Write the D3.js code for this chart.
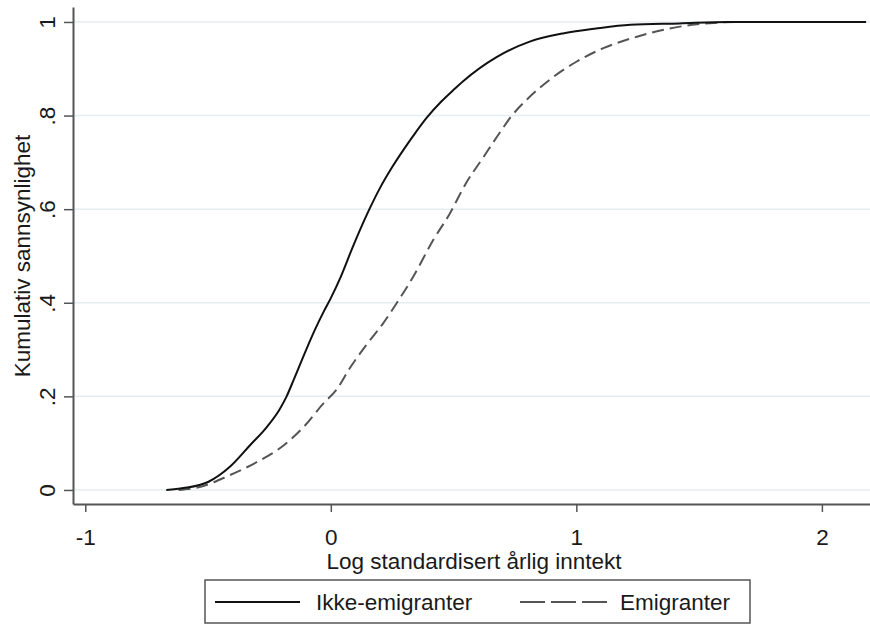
<!DOCTYPE html>
<html>
<head>
<meta charset="utf-8">
<script src="https://cdn.jsdelivr.net/npm/d3@7"></script>
<style>
  body { margin: 0; background: #fff; }
  svg { display: block; font-family: "Liberation Sans", Arial, sans-serif; }
</style>
</head>
<body>
<svg width="870" height="625"></svg>
<script>
// values
var xTicks = [-1, 0, 1, 2];
var yTicks = [0, 0.2, 0.4, 0.6, 0.8, 1];
var yTickLabels = ["0", ".2", ".4", ".6", ".8", "1"];

var ikkeX = [-0.67, -0.6, -0.5, -0.41, -0.33, -0.26, -0.21, -0.18, -0.15, -0.10, -0.065, -0.03, 0.0, 0.04, 0.09, 0.15, 0.2, 0.25, 0.3, 0.34, 0.39, 0.45, 0.5, 0.54, 0.675, 0.81, 0.95, 1.08, 1.22, 1.42, 1.62, 2.18];
var ikkeY = [0, 0.004, 0.017, 0.05, 0.095, 0.135, 0.171, 0.2, 0.237, 0.3, 0.342, 0.38, 0.41, 0.455, 0.52, 0.592, 0.645, 0.69, 0.73, 0.76, 0.795, 0.83, 0.855, 0.874, 0.925, 0.958, 0.976, 0.986, 0.994, 0.997, 1.0, 1.0];

var emigX = [-0.62, -0.53, -0.41, -0.30, -0.19, -0.11, -0.03, 0.023, 0.077, 0.145, 0.213, 0.268, 0.336, 0.417, 0.485, 0.55, 0.62, 0.69, 0.73, 0.80, 0.90, 1.0, 1.11, 1.25, 1.38, 1.49, 1.56, 1.65, 2.18];
var emigY = [0, 0.007, 0.032, 0.06, 0.096, 0.135, 0.185, 0.214, 0.26, 0.31, 0.356, 0.399, 0.456, 0.534, 0.591, 0.655, 0.71, 0.765, 0.795, 0.835, 0.88, 0.915, 0.944, 0.969, 0.986, 0.995, 0.998, 1.0, 1.0];

var svg = d3.select("svg");

var x = d3.scaleLinear().domain([-1.05, 2.2]).range([73, 871]);
var y = d3.scaleLinear().domain([-0.03, 1.032]).range([504, 7]);

var axisCol = "#555";
var textCol = "#1a1a1a";
var fontSize = "22.5px";

// grid
svg.selectAll("line.grid")
  .data(yTicks)
  .enter()
  .append("line")
  .attr("class", "grid")
  .attr("x1", 74).attr("x2", 870)
  .attr("y1", function(d) { return y(d); })
  .attr("y2", function(d) { return y(d); })
  .attr("stroke", "#e4eef1")
  .attr("stroke-width", 1.5);

// y axis
var yAxis = d3.axisLeft(y).tickValues(yTicks).tickSize(9).tickSizeOuter(0)
  .tickFormat(function(d, i) { return yTickLabels[i]; });
var gy = svg.append("g").attr("transform", "translate(73,0)").call(yAxis);
gy.select(".domain").attr("stroke", axisCol).attr("stroke-width", 2);
gy.selectAll(".tick line").attr("stroke", axisCol).attr("stroke-width", 1.5);
gy.selectAll(".tick text")
  .attr("fill", textCol)
  .attr("font-size", fontSize)
  .attr("text-anchor", "middle")
  .attr("x", 0).attr("dy", 0)
  .attr("transform", "translate(-18,0) rotate(-90)");

// x axis
var xAxis = d3.axisBottom(x).tickValues(xTicks).tickSize(8).tickSizeOuter(0)
  .tickFormat(function(d) { return String(d); });
var gx = svg.append("g").attr("transform", "translate(0,504)").call(xAxis);
gx.select(".domain").attr("stroke", axisCol).attr("stroke-width", 2);
gx.selectAll(".tick line").attr("stroke", axisCol).attr("stroke-width", 1.5);
gx.selectAll(".tick text")
  .attr("fill", textCol)
  .attr("font-size", fontSize)
  .attr("y", 0).attr("dy", 0)
  .attr("transform", "translate(0,41)");

// titles
svg.append("text")
  .attr("x", 474).attr("y", 569)
  .attr("text-anchor", "middle")
  .attr("font-size", fontSize)
  .attr("fill", textCol)
  .text("Log standardisert årlig inntekt");

svg.append("text")
  .attr("transform", "translate(30,256) rotate(-90)")
  .attr("text-anchor", "middle")
  .attr("font-size", fontSize)
  .attr("fill", textCol)
  .text("Kumulativ sannsynlighet");

// curves
var line = d3.line()
  .x(function(d) { return x(d[0]); })
  .y(function(d) { return y(d[1]); })
  .curve(d3.curveMonotoneX);

var emig = d3.zip(emigX, emigY);
var ikke = d3.zip(ikkeX, ikkeY);

svg.append("path")
  .datum(emig)
  .attr("d", line)
  .attr("fill", "none")
  .attr("stroke", "#555")
  .attr("stroke-width", 2)
  .attr("stroke-dasharray", "12,6");

svg.append("path")
  .datum(ikke)
  .attr("d", line)
  .attr("fill", "none")
  .attr("stroke", "#111")
  .attr("stroke-width", 2);

// legend
var leg = svg.append("g");
leg.append("rect")
  .attr("x", 205).attr("y", 580)
  .attr("width", 545).attr("height", 43)
  .attr("fill", "#fff")
  .attr("stroke", axisCol)
  .attr("stroke-width", 1.5);

leg.append("line")
  .attr("x1", 215).attr("x2", 300)
  .attr("y1", 602).attr("y2", 602)
  .attr("stroke", "#111").attr("stroke-width", 2);
leg.append("text")
  .attr("x", 316).attr("y", 610)
  .attr("font-size", fontSize).attr("fill", textCol)
  .text("Ikke-emigranter");

leg.append("line")
  .attr("x1", 520).attr("x2", 607)
  .attr("y1", 602).attr("y2", 602)
  .attr("stroke", "#555").attr("stroke-width", 2)
  .attr("stroke-dasharray", "25,6");
leg.append("text")
  .attr("x", 620).attr("y", 610)
  .attr("font-size", fontSize).attr("fill", textCol)
  .text("Emigranter");
</script>
</body>
</html>
